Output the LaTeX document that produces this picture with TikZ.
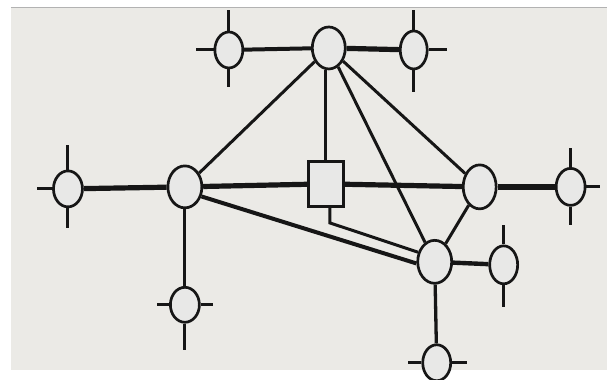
\documentclass[tikz,border=0pt]{standalone}
\usetikzlibrary{shapes.geometric}
\definecolor{paper}{HTML}{EBEAE6}
\definecolor{ink}{HTML}{161616}
\definecolor{cellfill}{HTML}{E8E8E7}
\pgfdeclarelayer{paperlayer}
\pgfdeclarelayer{linklayer}
\pgfsetlayers{paperlayer,linklayer,main}
\tikzset{
  ell/.style={ellipse, draw=ink, line width=2.7pt, fill=cellfill, inner sep=0pt},
  box/.style={rectangle, draw=ink, line width=2.7pt, fill=cellfill, inner sep=0pt},
  heavy/.style={draw=ink, line width=5.2pt},
  medium/.style={draw=ink, line width=4pt},
  light/.style={draw=ink, line width=3pt},
  spike/.style={draw=ink, line width=3pt}
}
\begin{document}
\begin{tikzpicture}[x=1pt, y=-1pt]
  % page
  \begin{pgfonlayer}{paperlayer}
    \fill[white] (0,0) rectangle (607,380);
    \fill[paper] (11,7) rectangle (607,370);
    \draw[gray!60, line width=0.8pt] (11,7) -- (607,7);
  \end{pgfonlayer}
  \useasboundingbox (0,0) rectangle (607,380);

  % nodes
  \node[ell, minimum width=33pt, minimum height=42pt] (T)  at (329,48) {};
  \node[ell, minimum width=28pt, minimum height=36pt] (TL) at (229,50) {};
  \node[ell, minimum width=27pt, minimum height=38pt] (TR) at (414,50) {};
  \node[ell, minimum width=34pt, minimum height=42pt] (L)  at (185,187) {};
  \node[ell, minimum width=29pt, minimum height=36pt] (FL) at (68,189) {};
  \node[box, minimum width=35pt, minimum height=45pt] (R)  at (326,184) {};
  \node[ell, minimum width=33pt, minimum height=44pt] (E)  at (480,187) {};
  \node[ell, minimum width=29pt, minimum height=37pt] (FR) at (571,187) {};
  \node[ell, minimum width=34pt, minimum height=43pt] (B)  at (435,262) {};
  \node[ell, minimum width=28pt, minimum height=38pt] (SR) at (504,265) {};
  \node[ell, minimum width=28pt, minimum height=36pt] (BB) at (437,363) {};
  \node[ell, minimum width=29pt, minimum height=35pt] (LL) at (185,305) {};

  % free ends of the short stubs
  \coordinate (tlU) at (229,10);  \coordinate (tlD) at (229,87);  \coordinate (tlW) at (196,50);
  \coordinate (trU) at (414,10);  \coordinate (trD) at (414,92);  \coordinate (trE) at (447,50);
  \coordinate (flU) at (68,145);  \coordinate (flD) at (68,228);  \coordinate (flW) at (37,189);
  \coordinate (frU) at (571,148); \coordinate (frD) at (571,225); \coordinate (frE) at (600,187);
  \coordinate (srU) at (504,225); \coordinate (srD) at (504,307);
  \coordinate (bbW) at (408,363); \coordinate (bbE) at (467,363);
  \coordinate (llW) at (157,305); \coordinate (llE) at (213,305); \coordinate (llD) at (185,350);
  \coordinate (kink) at (330,223);

  \begin{pgfonlayer}{linklayer}
  % trunk lines
  \path[medium] (TL) -- (T);
  \path[heavy]  (T) -- (TR);
  \path[heavy]  (FL) -- (L);
  \path[heavy]  (L) -- (R);
  \path[heavy]  (R) -- (E);
  \path[heavy, line width=5.8pt] (E) -- (FR);
  % branches from the top node
  \path[light] (T) -- (L);
  \path[light] (T.south -| R.north) -- (R.north);
  \path[light] (T) -- (B);
  \path[light] (T) -- (E);
  % lower links
  \path[light]  (E) -- (B);
  \path[medium] (L.-30) -- (B.185);
  \path[light]  (R.south -| kink) -- (kink) -- (B.150);
  \path[medium, line width=4.4pt] (B) -- (SR);
  \path[light, line width=3.3pt]  (B) -- (BB);
  \path[light] (L) -- (LL);
  % stubs
  \path[spike] (TL.north) -- (tlU);  \path[spike] (TL.south) -- (tlD);  \path[spike] (TL.west) -- (tlW);
  \path[spike] (TR.north) -- (trU);  \path[spike] (TR.south) -- (trD);  \path[spike] (TR.east) -- (trE);
  \path[spike] (FL.north) -- (flU);  \path[spike] (FL.south) -- (flD);  \path[spike] (FL.west) -- (flW);
  \path[spike] (FR.north) -- (frU);  \path[spike] (FR.south) -- (frD);  \path[spike] (FR.east) -- (frE);
  \path[spike] (SR.north) -- (srU);  \path[spike] (SR.south) -- (srD);
  \path[spike] (BB.west) -- (bbW);   \path[spike] (BB.east) -- (bbE);
  \path[spike] (LL.west) -- (llW);   \path[spike] (LL.east) -- (llE);  \path[spike] (LL.south) -- (llD);
  \end{pgfonlayer}
\end{tikzpicture}
\end{document}
